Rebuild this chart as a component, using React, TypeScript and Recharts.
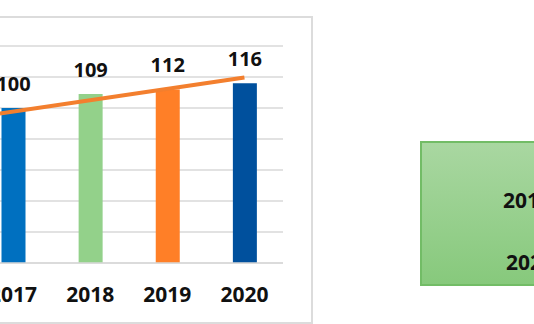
import React from 'react';
import { ComposedChart, Bar, XAxis, YAxis, CartesianGrid, Cell, LabelList, ReferenceLine } from 'recharts';

const years = ['2017', '2018', '2019', '2020'];
const values = [100, 109, 112, 116];
const trendX = [-0.17, 3];
const trendY = [96.4, 119.7];
const yTicks = [0, 20, 40, 60, 80, 100, 120, 140];
const boxLines = ['2019', '2020'];

const barColors = ['#0070c0', '#93d18a', '#ff7f27', '#00509d'];
const FONT = '"Open Sans", "Liberation Sans", sans-serif';

const barData = years.map((y, i) => ({ x: i, year: y, value: values[i] }));
const trendSegment = trendX.map((x, i) => ({ x, y: trendY[i] }));

export default function App() {
  return (
    <div style={{ position: 'fixed', left: 0, top: 0, width: 534, height: 324, overflow: 'hidden', background: '#fff', fontFamily: FONT }}>
      <div style={{ position: 'absolute', left: -10, top: 16, width: 323, height: 308, boxSizing: 'border-box', border: '2px solid #dcdcdc' }} />
      <div style={{ position: 'absolute', left: -40, top: 0 }}>
        <ComposedChart width={340} height={324} data={barData} margin={{ top: 46, right: 17, bottom: 31, left: 14.5 }}>
          <CartesianGrid vertical={false} stroke="#d9d9d9" strokeWidth={1.5} />
          <XAxis
            dataKey="x"
            type="number"
            domain={[-0.5, 3.5]}
            allowDataOverflow
            ticks={[0, 1, 2, 3]}
            tickFormatter={(v: number) => years[v] ?? ''}
            height={30}
            tickLine={false}
            tickSize={0}
            tickMargin={24}
            axisLine={{ stroke: '#d9d9d9', strokeWidth: 1.5 }}
            tick={{ fill: '#111', fontSize: 21, fontWeight: 700, fontFamily: FONT }}
          />
          <YAxis hide domain={[0, 140]} ticks={yTicks} />
          <Bar dataKey="value" barSize={24} isAnimationActive={false}>
            {barData.map((d, i) => (
              <Cell key={d.year} fill={barColors[i]} />
            ))}
            <LabelList dataKey="value" position="top" offset={17} fill="#111" fontSize={20} fontWeight={700} fontFamily={FONT} />
          </Bar>
          <ReferenceLine segment={trendSegment} stroke="#f37f2e" strokeWidth={4} ifOverflow="visible" />
        </ComposedChart>
      </div>
      <div
        style={{
          position: 'absolute',
          left: 420,
          top: 141,
          width: 200,
          height: 145,
          boxSizing: 'border-box',
          border: '2px solid #72bc66',
          background: 'linear-gradient(#a9d7a1, #87c97c)',
        }}
      />
      <div style={{ position: 'absolute', left: 503, top: 187, fontSize: 21, fontWeight: 700, color: '#111', lineHeight: '26px', whiteSpace: 'nowrap' }}>{boxLines[0]}</div>
      <div style={{ position: 'absolute', left: 506, top: 249, fontSize: 21, fontWeight: 700, color: '#111', lineHeight: '26px', whiteSpace: 'nowrap' }}>{boxLines[1]}</div>
    </div>
  );
}
